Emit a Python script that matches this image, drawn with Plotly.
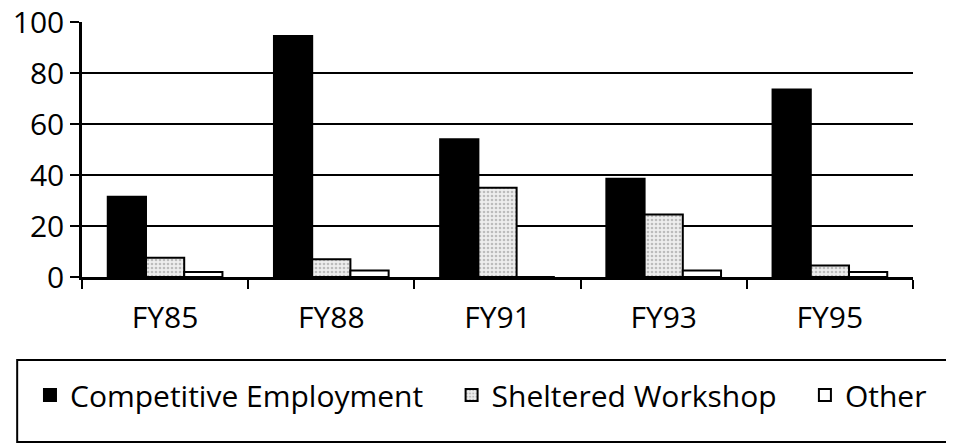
import plotly.graph_objects as go

# fiscal years and placement counts per outcome
years = ["FY85", "FY88", "FY91", "FY93", "FY95"]
competitive = [31.5, 94.5, 54, 38.5, 73.5]
sheltered = [7.5, 7, 35, 24.5, 4.5]
other = [2, 2.5, 0, 2.5, 2]

FONT = "Open Sans"
PAD = "\u00a0" * 3  # spacing between legend entries

fig = go.Figure()

# black bars
fig.add_trace(go.Bar(x=years, y=competitive, name="Competitive Employment" + PAD,
                     marker=dict(color="black", line=dict(color="black", width=2))))

# speckled grey bars
fig.add_trace(go.Bar(x=years, y=sheltered, name="Sheltered Workshop" + PAD,
                     marker=dict(color="#e8e8e8", line=dict(color="black", width=2),
                                 pattern=dict(shape=".", fgcolor="#8a8a8a", bgcolor="#eeeeee",
                                              size=4, solidity=0.35))))

# white bars
fig.add_trace(go.Bar(x=years, y=other, name="Other",
                     marker=dict(color="white", line=dict(color="black", width=2))))

# page body adds an 8px offset, so margins are shifted to compensate
fig.update_layout(
    width=954, height=444,
    margin=dict(l=74, r=49, t=14, b=175, autoexpand=False),
    barmode="group", bargap=0.31, bargroupgap=0,
    plot_bgcolor="white", paper_bgcolor="white",
    font=dict(family=FONT, size=30, color="black"),
    showlegend=True,
    legend=dict(orientation="h", x=-0.0626, xanchor="left", y=-0.463, yanchor="middle",
                bgcolor="rgba(0,0,0,0)", borderwidth=0,
                font=dict(family=FONT, size=30, color="black"),
                itemwidth=30, traceorder="normal"),
)

# legend frame, running off the right and bottom edges
fig.add_shape(type="rect", xref="paper", yref="paper",
              x0=-0.078, x1=1.1, y0=-0.647, y1=-0.3255,
              line=dict(color="black", width=2), fillcolor="rgba(0,0,0,0)")

fig.update_yaxes(range=[0, 100], dtick=20, showgrid=True, gridcolor="black", gridwidth=2,
                 showline=True, linecolor="black", linewidth=2.5,
                 ticks="outside", ticklen=9, tickwidth=2, tickcolor="black",
                 zeroline=False, tickfont=dict(size=30), automargin=False,
                 ticklabeloverflow="allow")
fig.update_xaxes(showline=True, linecolor="black", linewidth=2.5,
                 ticks="outside", tickson="boundaries", ticklen=9, tickwidth=2,
                 tickcolor="black", tickfont=dict(size=30), ticklabelstandoff=12,
                 automargin=False)

fig.write_html("out.html")
